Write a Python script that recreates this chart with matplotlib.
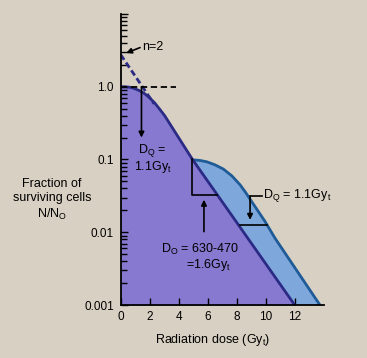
import numpy as np
import matplotlib
matplotlib.use('Agg')
import matplotlib.pyplot as plt

plt.rcParams['font.family'] = ['Liberation Sans', 'DejaVu Sans']
plt.rcParams['mathtext.fontset'] = 'custom'
plt.rcParams['mathtext.rm'] = 'Liberation Sans'
plt.rcParams['mathtext.it'] = 'Liberation Sans'

# single dose survival curve
dose1 = [0, 0.3, 0.62, 0.97, 1.31, 1.66, 2.0, 2.34, 2.69, 3.03, 4.95, 12.0]
surv1 = [1.0, 1.0, 0.985, 0.94, 0.88, 0.80, 0.70, 0.60, 0.49, 0.40, 0.1, 0.001]

# split dose curve starting at ~5 Gy
dose2 = [4.95, 5.47, 5.93, 6.50, 7.08, 7.66, 8.23, 8.57, 9.26, 9.95, 10.64, 13.74]
surv2 = [0.099, 0.097, 0.093, 0.0845, 0.0738, 0.0597, 0.0449, 0.0363, 0.0226, 0.0141, 0.0083, 0.001]

# extrapolation of the straight part back to zero dose (n=2)
extrap_dose = [0, 2.3]
extrap_surv = [2.75, 0.58]

xticks = [0, 2, 4, 6, 8, 10, 12]
yticks = [0.001, 0.01, 0.1, 1.0, 10]
ylabels = ['0.001', '0.01', '0.1', '1.0', '']

bg = '#d8d0c2'
purple = '#8679cf'
lightblue = '#7ea7dc'
navy = '#2b2b86'
teal = '#1f5b97'

fig = plt.figure(figsize=(3.67, 3.58), dpi=100, facecolor=bg)
ax = fig.add_axes([0.329, 0.148, 0.553, 0.813])
ax.set_facecolor(bg)
ax.set_yscale('log')
ax.set_xlim(0, 14)
ax.set_ylim(0.001, 10)

# fills
ax.fill_between(dose1, 0.001, surv1, color=purple, lw=0, zorder=1)
ax.fill(dose2 + dose1[:-3:-1], surv2 + surv1[:-3:-1], color=lightblue, lw=0, zorder=1)

# curves
ax.plot(dose2, surv2, color=teal, lw=2.0, zorder=3, solid_capstyle='round')
ax.plot(dose1, surv1, color=navy, lw=2.0, zorder=4, solid_capstyle='round')
ax.plot(extrap_dose, extrap_surv, color=navy, lw=2.0, ls=(0, (2.2, 1.2)), zorder=4)
ax.plot([0, 3.8], [1.0, 1.0], color='black', lw=1.3, ls=(0, (3.5, 2)), zorder=5)

arrow = dict(arrowstyle='-|>', color='black', lw=1.2, mutation_scale=8, shrinkA=0, shrinkB=0)

# n=2
ax.annotate('', xy=(0.37, 2.9), xytext=(1.33, 3.45), arrowprops=arrow, zorder=6)
ax.text(1.5, 3.5, 'n=2', fontsize=9, ha='left', va='center')

# Dq on single dose curve
ax.annotate('', xy=(1.43, 0.2), xytext=(1.43, 1.0), arrowprops=arrow, zorder=6)
ax.text(2.2, 0.135, 'D$_\\mathrm{Q}$ =', fontsize=9, ha='center', va='center')
ax.text(2.2, 0.08, '1.1Gy$_\\mathrm{t}$', fontsize=9, ha='center', va='center')

# D0 bracket
ax.plot([4.94, 4.94, 6.65], [0.1, 0.033, 0.033], color='black', lw=1.2, zorder=6)
ax.annotate('', xy=(5.74, 0.028), xytext=(5.74, 0.0102), arrowprops=arrow, zorder=6)
ax.text(5.47, 0.0058, 'D$_\\mathrm{O}$ = 630-470', fontsize=9, ha='center', va='center')
ax.text(6.04, 0.0035, '=1.6Gy$_\\mathrm{t}$', fontsize=9, ha='center', va='center')

# Dq on split dose curve
ax.plot([8.23, 10.07], [0.0124, 0.0124], color='black', lw=1.2, zorder=6)
ax.plot([9.72, 8.92], [0.031, 0.031], color='black', lw=1.2, zorder=6)
ax.annotate('', xy=(8.92, 0.0148), xytext=(8.92, 0.031), arrowprops=arrow, zorder=6)
ax.text(9.8, 0.0317, 'D$_\\mathrm{Q}$ = 1.1Gy$_\\mathrm{t}$', fontsize=9, ha='left', va='center')

# axes styling
for s in ['top', 'right']:
    ax.spines[s].set_visible(False)
for s in ['left', 'bottom']:
    ax.spines[s].set_linewidth(1.3)
    ax.spines[s].set_zorder(7)

ax.set_xticks(xticks)
ax.set_xticklabels([str(t) for t in xticks])
ax.set_yticks(yticks)
ax.set_yticklabels(ylabels)
ax.tick_params(axis='both', which='major', direction='in', length=5, width=1.0, labelsize=8.5, pad=5)
ax.tick_params(axis='y', which='minor', direction='in', length=4, width=1.0)
ax.tick_params(axis='x', which='major', pad=4)

fig.text(52 / 367, 1 - 200 / 358, 'Fraction of\nsurviving cells\nN/N$_\\mathrm{O}$',
         fontsize=9, ha='center', va='center', linespacing=1.25)
fig.text(212.5 / 367, 1 - 340 / 358, 'Radiation dose (Gy$_\\mathrm{t}$)',
         fontsize=9, ha='center', va='center')

fig.savefig('out.png', dpi=100, facecolor=bg)
